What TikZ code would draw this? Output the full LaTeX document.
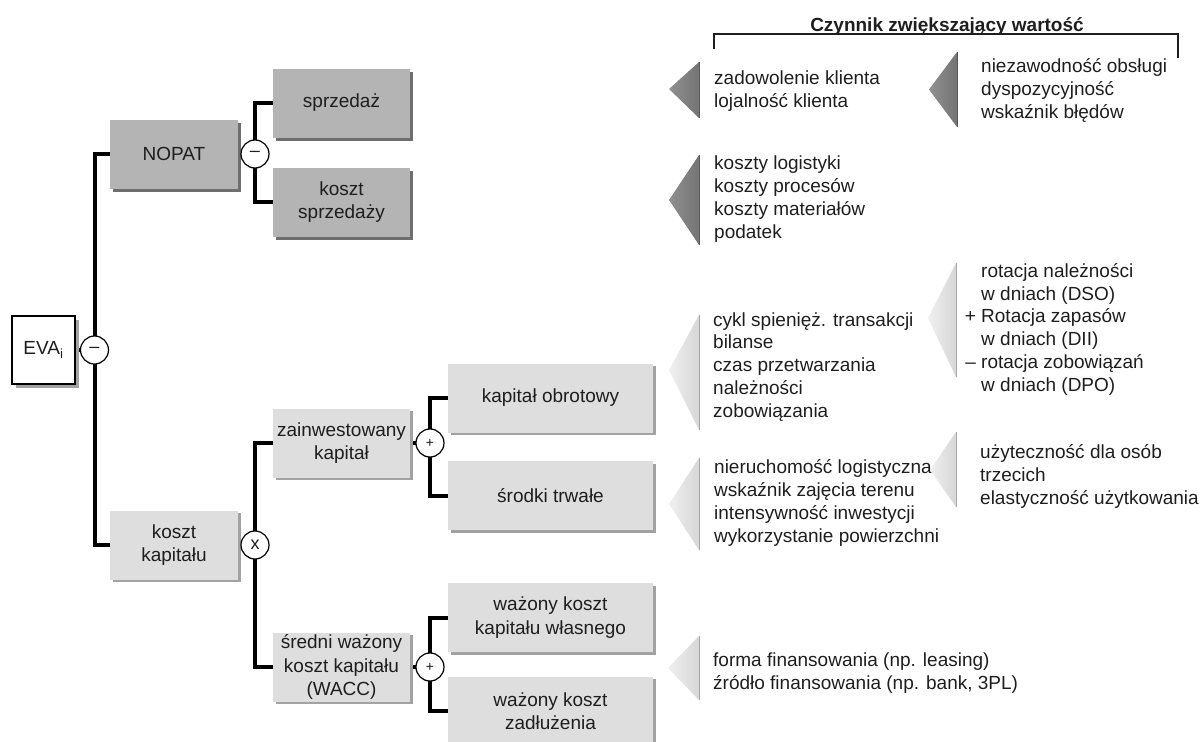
\documentclass[tikz,border=0pt]{standalone}
\usepackage{fontspec}
\setmainfont{Liberation Sans}
\usetikzlibrary{shadows}
\definecolor{boxdark}{HTML}{B4B4B4}
\definecolor{boxlight}{HTML}{DEDEDE}
\definecolor{shdark}{HTML}{6E6E6E}
\definecolor{shlight}{HTML}{A2A2A2}
\definecolor{ink}{HTML}{1E1E1E}
\definecolor{tridarkL}{HTML}{909090}
\definecolor{tridarkR}{HTML}{747474}
\definecolor{tridarkE}{HTML}{585858}
\definecolor{trilightL}{HTML}{F0F0F0}
\definecolor{trilightR}{HTML}{D6D6D6}
\definecolor{trilightE}{HTML}{A8A8A8}
\pgfdeclarelayer{bg}
\pgfsetlayers{bg,main}
\begin{document}
\begin{tikzpicture}[x=1pt,y=-1pt,
  opbox/.style={rectangle, inner sep=0pt, align=center, text=ink,
    font=\fontsize{19}{23.3}\selectfont, minimum height=69pt},
  darkbox/.style={opbox, fill=boxdark,
    drop shadow={shadow xshift=3pt, shadow yshift=-3pt, fill=shdark, opacity=1}},
  lightbox/.style={opbox, fill=boxlight,
    drop shadow={shadow xshift=2.5pt, shadow yshift=-2.5pt, fill=shlight, opacity=1}},
  colA/.style={minimum width=128pt},
  colB/.style={minimum width=137pt},
  colC/.style={minimum width=205pt},
  opcircle/.style={circle, draw=black, line width=1.2pt, fill=white, minimum size=28pt,
    inner sep=0pt, text=ink, font=\fontsize{18}{18}\selectfont},
  link/.style={line width=4pt, draw=black},
  % multi-line side texts are placed by the baseline of their last line
  sidetext/.style={inner sep=0pt, align=left, anchor=base west, text=ink,
    font=\fontsize{19}{22.7}\selectfont},
  darktri/.style={left color=tridarkL, right color=tridarkR},
  lighttri/.style={left color=trilightL, right color=trilightR},
]
\useasboundingbox (0,0) rectangle (1203,742);

% root
\node[opbox, fill=white, draw=black, line width=1.5pt, minimum width=63pt, minimum height=68pt,
  drop shadow={shadow xshift=4pt, shadow yshift=-4pt, fill=shlight, opacity=1}]
  (eva) at (43.5,350) {EVA\textsubscript{i}};

% NOPAT branch
\node[darkbox, colA] (nopat) at (174,154) {NOPAT};
\node[darkbox, colB] (sales) at (341.5,103) {sprzedaż};
\node[darkbox, colB] (cos) at (341.5,202) {koszt\\sprzedaży};

% capital cost branch
\node[lightbox, colA] (capcost) at (174,545) {koszt\\kapitału};
\node[lightbox, colB] (invest) at (341.5,443) {zainwestowany\\kapitał};
\node[lightbox, colB] (wacc) at (341.5,667) {średni ważony\\koszt kapitału\\(WACC)};
\node[lightbox, colC] (workcap) at (550.5,398) {kapitał obrotowy};
\node[lightbox, colC] (fixed) at (550.5,495.5) {środki trwałe};
\node[lightbox, colC] (equity) at (550.5,617.5) {ważony koszt\\kapitału własnego};
\node[lightbox, colC] (debt) at (550.5,711) {ważony koszt\\zadłużenia};

% operators
\node[opcircle] (opeva) at (94.5,350) {–};
\node[opcircle] (opnopat) at (255,154) {–};
\node[opcircle] (opcap) at (255,545) {x};
\node[opcircle, font=\fontsize{14}{14}\selectfont] (opinv) at (430,443) {+};
\node[opcircle, font=\fontsize{14}{14}\selectfont] (opwacc) at (430,667) {+};

% tree connectors
\begin{pgfonlayer}{bg}
  \draw[link] (eva.east) -- (opeva.center);
  \draw[link] (nopat.west) -| (opeva.center);
  \draw[link] (capcost.west) -| (opeva.center);
  \draw[link] (nopat.east) -- (opnopat.center);
  \draw[link] (sales.west) -| (opnopat.center);
  \draw[link] (cos.west) -| (opnopat.center);
  \draw[link] (capcost.east) -- (opcap.center);
  \draw[link] (invest.west) -| (opcap.center);
  \draw[link] (wacc.west) -| (opcap.center);
  \draw[link] (invest.east) -- (opinv.center);
  \draw[link] (workcap.west) -| (opinv.center);
  \draw[link] (fixed.west) -| (opinv.center);
  \draw[link] (wacc.east) -- (opwacc.center);
  \draw[link] (equity.west) -| (opwacc.center);
  \draw[link] (debt.west) -| (opwacc.center);
\end{pgfonlayer}

% header of the value driver columns
\node[inner sep=0pt, anchor=base, text=ink, font=\bfseries\fontsize{19}{22}\selectfont]
  (head) at (947,31) {Czynnik zwiększający wartość};
\coordinate (brL) at (714,49);
\coordinate (brTL) at (714,34);
\coordinate (brTR) at (1178,34);
\coordinate (brR) at (1178,58);
\draw[line width=1.2pt, draw=ink] (brL) -- (brTL) -- (brTR) -- (brR);

% value drivers
\node[sidetext] (d1) at (714,107) {zadowolenie klienta\\lojalność klienta};
\node[sidetext] (d2) at (981,118) {niezawodność obsługi\\dyspozycyjność\\wskaźnik błędów};
\node[sidetext] (d3) at (714,238) {koszty logistyki\\koszty procesów\\koszty materiałów\\podatek};
\node[sidetext] (d4) at (713,417) {cykl spienięż. transakcji\\bilanse\\czas przetwarzania\\należności\\zobowiązania};
\node[sidetext] (d5) at (981,391) {rotacja należności\\w dniach (DSO)\\\llap{+ }Rotacja zapasów\\w dniach (DII)\\\llap{– }rotacja zobowiązań\\w dniach (DPO)};
\node[sidetext] (d6) at (714,542) {nieruchomość logistyczna\\wskaźnik zajęcia terenu\\intensywność inwestycji\\wykorzystanie powierzchni};
\node[sidetext] (d7) at (980,504) {użyteczność dla osób\\trzecich\\elastyczność użytkowania};
\node[sidetext] (d8) at (713,689) {forma finansowania (np. leasing)\\źródło finansowania (np. bank, 3PL)};

% wedge markers
\shade[darktri] (669,89) -- (699,62) -- (699,118) -- cycle;
\draw[tridarkE, line width=1pt] (699,62) -- (699,118);
\shade[darktri] (929,89.5) -- (957,52) -- (957,127) -- cycle;
\draw[tridarkE, line width=1pt] (957,52) -- (957,127);
\shade[darktri] (669,200) -- (699,155) -- (699,245) -- cycle;
\draw[tridarkE, line width=1pt] (699,155) -- (699,245);
\shade[lighttri] (669,370) -- (699,315) -- (699,430) -- cycle;
\draw[trilightE, line width=1pt] (699,315) -- (699,430);
\shade[lighttri] (928,318) -- (956,263) -- (956,377) -- cycle;
\draw[trilightE, line width=1pt] (956,263) -- (956,377);
\shade[lighttri] (669,504) -- (699,458) -- (699,550) -- cycle;
\draw[trilightE, line width=1pt] (699,458) -- (699,550);
\shade[lighttri] (930,470) -- (956,432) -- (956,507) -- cycle;
\draw[trilightE, line width=1pt] (956,432) -- (956,507);
\shade[lighttri] (668,668) -- (699,636) -- (699,700) -- cycle;
\draw[trilightE, line width=1pt] (699,636) -- (699,700);
\end{tikzpicture}
\end{document}
